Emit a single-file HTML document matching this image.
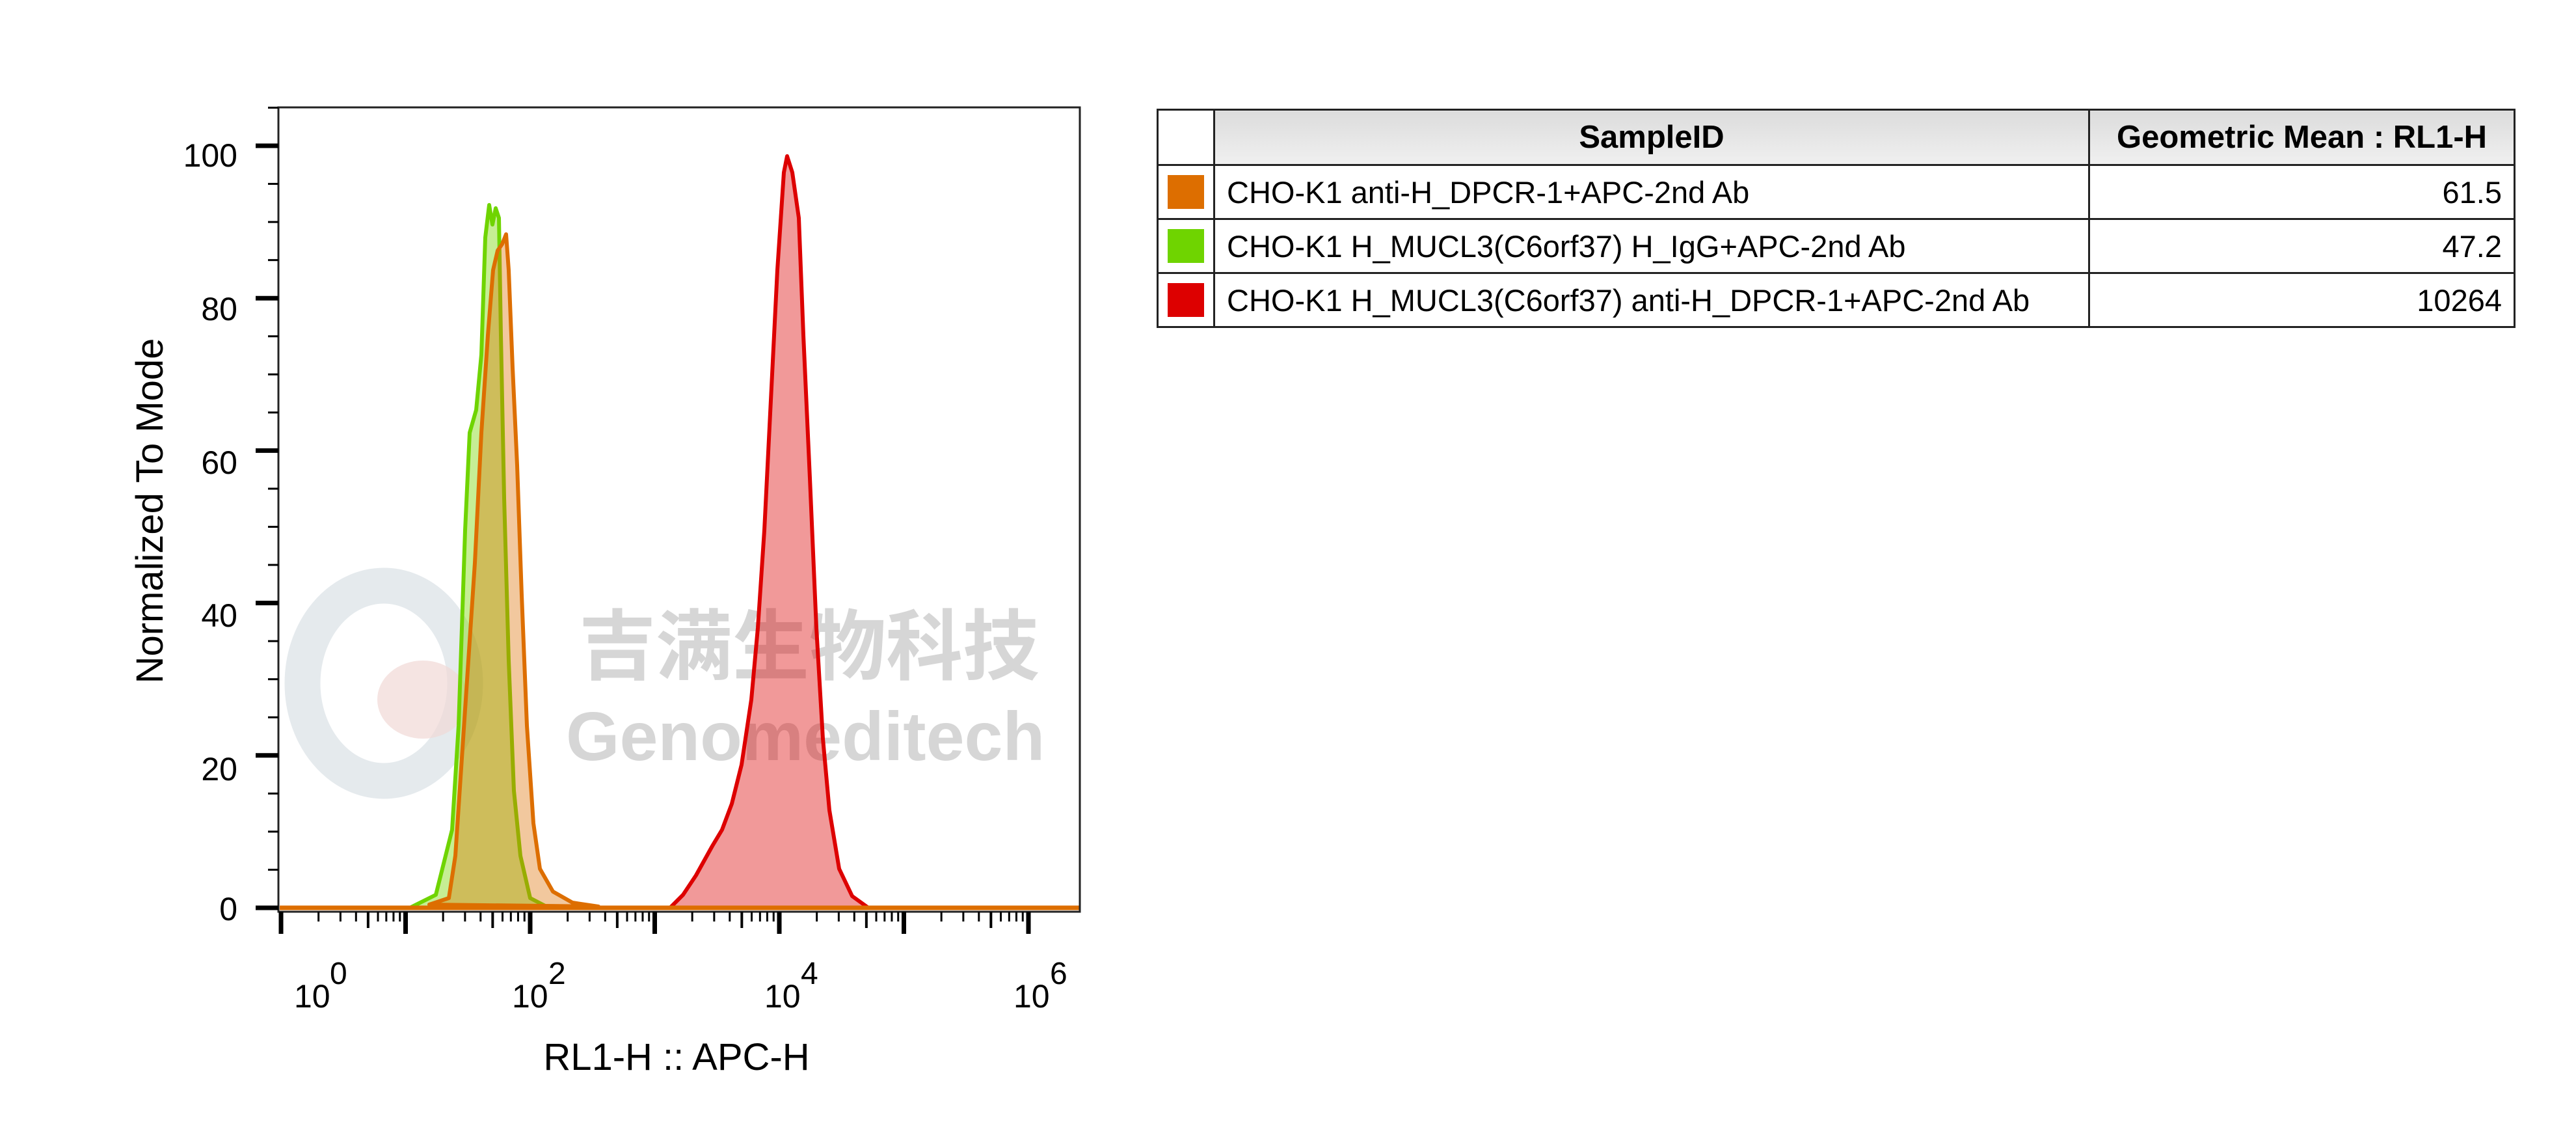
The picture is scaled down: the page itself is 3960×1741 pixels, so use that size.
<!DOCTYPE html>
<html><head><meta charset="utf-8"><style>
html,body{margin:0;padding:0;background:#fff;}
body{width:3960px;height:1741px;position:relative;overflow:hidden;font-family:"Liberation Sans",Arial,sans-serif;}
table{position:absolute;left:1778px;top:167px;width:2089px;border-collapse:collapse;font-size:47px;table-layout:fixed;}
td{border:3px solid #222;padding:0 18px;height:80px;white-space:nowrap;overflow:hidden;}
tr.h td{background:linear-gradient(#dcdcdc,#f0f0f0);font-weight:bold;height:82px;text-align:center;font-size:49px;}
.sw{padding:0;position:relative;}
.sw div{position:absolute;left:14px;top:14px;width:56px;height:52px;}
</style></head><body>
<svg width="3960" height="1741" style="position:absolute;left:0;top:0" xmlns="http://www.w3.org/2000/svg" font-family="Liberation Sans, Arial, sans-serif">
<ellipse cx="590" cy="1050" rx="125" ry="150" fill="none" stroke="#dfe5e8" stroke-width="55" opacity="0.8"/>
<ellipse cx="650" cy="1075" rx="70" ry="60" fill="#f1d8d6" opacity="0.7"/>
<text x="890" y="1035" font-family="Liberation Sans, Noto Sans CJK SC, sans-serif" font-size="118" font-weight="bold" fill="#cfcfcf" opacity="0.85">吉满生物科技</text>
<text x="870" y="1168" font-size="106" font-weight="bold" fill="#cfcfcf" opacity="0.85">Genomeditech</text>
<g transform="translate(150,115)" stroke-width="6" stroke-linejoin="round">
<path d="M480,1280 L520,1260 545,1160 555,1000 560,850 565,700 572,550 582,515 590,430 596,250 602,200 607,230 612,205 617,220 620,400 625,650 632,900 640,1100 650,1200 665,1265 690,1278 770,1280 Z" fill="rgba(120,215,0,0.42)" stroke="#6fd400"/>
<path d="M510,1275 L540,1265 550,1200 560,1050 570,900 580,750 590,550 600,400 608,300 615,270 622,260 628,245 632,300 638,450 645,600 652,800 660,1000 670,1150 680,1220 700,1255 730,1272 770,1278 Z" fill="rgba(220,110,0,0.38)" stroke="#dd6e00"/>
<path d="M880,1280 L900,1260 920,1230 945,1185 960,1160 975,1120 990,1060 1005,960 1015,850 1025,700 1035,500 1045,300 1055,150 1060,125 1068,150 1078,220 1085,400 1095,620 1105,850 1115,1020 1125,1130 1140,1220 1160,1262 1185,1280 Z" fill="rgba(220,0,0,0.4)" stroke="#dd0000"/>
<line x1="280" y1="1280" x2="1510" y2="1280" stroke="#dd6e00" stroke-width="7"/>
</g>
<rect x="428" y="165" width="1232" height="1236" fill="none" stroke="#222" stroke-width="3"/>
<g id="ticks" stroke="#000"></g>
<g font-size="50" fill="#000" text-anchor="end">
<text x="365" y="256">100</text><text x="365" y="492">80</text><text x="365" y="728">60</text><text x="365" y="963">40</text><text x="365" y="1199">20</text><text x="365" y="1414">0</text>
</g>
<g font-size="50" fill="#000">
<text x="452" y="1548">10</text><text x="507" y="1512" font-size="48">0</text>
<text x="787" y="1548">10</text><text x="843" y="1512" font-size="48">2</text>
<text x="1175" y="1548">10</text><text x="1231" y="1512" font-size="48">4</text>
<text x="1558" y="1548">10</text><text x="1614" y="1512" font-size="48">6</text>
</g>
<text x="1040" y="1644" font-size="58" text-anchor="middle">RL1-H :: APC-H</text>
<text transform="translate(250,785) rotate(-90)" font-size="58" text-anchor="middle">Normalized To Mode</text>
</svg>
<table>
<colgroup><col style="width:87px"><col style="width:1345px"><col></colgroup>
<tr class="h"><td class="sw" style="background:#fff"></td><td>SampleID</td><td>Geometric Mean : RL1-H</td></tr>
<tr><td class="sw"><div style="background:#dd6e00"></div></td><td>CHO-K1 anti-H_DPCR-1+APC-2nd Ab</td><td style="text-align:right">61.5</td></tr>
<tr><td class="sw"><div style="background:#6fd400"></div></td><td>CHO-K1 H_MUCL3(C6orf37) H_IgG+APC-2nd Ab</td><td style="text-align:right">47.2</td></tr>
<tr><td class="sw"><div style="background:#dd0000"></div></td><td>CHO-K1 H_MUCL3(C6orf37) anti-H_DPCR-1+APC-2nd Ab</td><td style="text-align:right">10264</td></tr>
</table>
<script>
var g=document.getElementById('ticks'),s='';
function L(x1,y1,x2,y2,w){s+='<line x1="'+x1+'" y1="'+y1+'" x2="'+x2+'" y2="'+y2+'" stroke-width="'+w+'"/>';}
var y0=1395,pu=11.71;
for(var v=0;v<=105;v+=5){var y=y0-v*pu;if(v%20==0)L(393,y,428,y,7);else L(412,y,428,y,3);}
var x0=432,dec=191.5;
for(var d=0;d<=6;d++){var xb=x0+d*dec;L(xb,1401,xb,1435,7);
 if(d<6)for(var k=2;k<=9;k++){var x=xb+Math.log10(k)*dec;if(x>1655)continue;if(k==5)L(x,1401,x,1426,4);else L(x,1401,x,1416,3);}}
g.innerHTML=s;
</script>
</body></html>
